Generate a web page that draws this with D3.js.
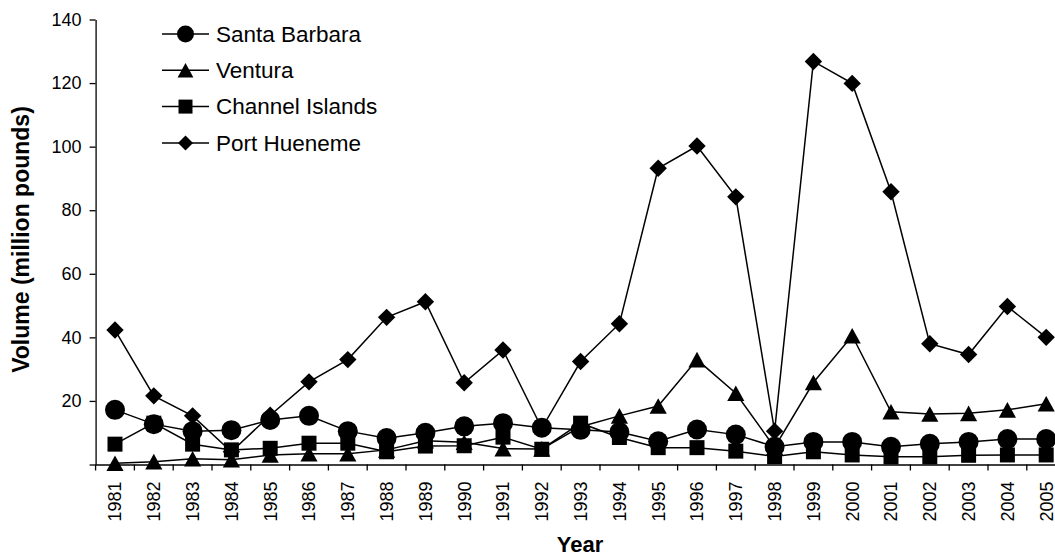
<!DOCTYPE html>
<html>
<head>
<meta charset="utf-8">
<script src="https://cdn.jsdelivr.net/npm/d3@7"></script>
<style>
  html, body { margin: 0; padding: 0; background: #fff; }
  svg { display: block; font-family: "Liberation Sans", Arial, sans-serif; }
</style>
</head>
<body>
<svg id="chart" width="1055" height="558"></svg>
<script>
const years = [1981,1982,1983,1984,1985,1986,1987,1988,1989,1990,1991,1992,1993,1994,1995,1996,1997,1998,1999,2000,2001,2002,2003,2004,2005];
const santaBarbara = [17.2,12.7,10.5,10.8,14.0,15.3,10.5,8.3,10.0,12.0,13.0,11.6,10.9,10.2,7.3,11.0,9.4,5.6,7.1,7.1,5.6,6.5,7.1,8.0,8.0];
const ventura = [0.4,0.9,1.8,1.5,3.0,3.4,3.4,4.6,7.5,7.0,5.0,4.9,11.9,15.3,18.4,33.0,22.4,5.4,25.8,40.5,16.6,15.9,16.1,17.2,19.1];
const channelIslands = [6.4,13.0,6.4,4.6,5.1,6.7,6.7,4.0,5.8,5.9,8.6,4.8,13.0,8.5,5.3,5.3,4.2,2.5,4.0,3.0,2.4,2.4,2.9,3.0,3.0];
const portHueneme = [42.3,21.6,15.3,4.0,15.5,26.0,33.0,46.3,51.2,25.7,36.0,11.4,32.4,44.3,93.2,100.2,84.2,10.5,126.8,119.9,85.8,38.0,34.6,49.7,40.0];
const seriesNames = ["Santa Barbara","Ventura","Channel Islands","Port Hueneme"];
const seriesSymbols = ["circle","triangle","square","diamond"];
const yTicks = [0,20,40,60,80,100,120,140];
const xTitle = "Year";
const yTitle = "Volume (million pounds)";

const seriesValues = [santaBarbara, ventura, channelIslands, portHueneme];

const svg = d3.select("#chart");
const x = d3.scaleBand().domain(years).range([95.6, 1065.6]);
const y = d3.scaleLinear().domain([0,140]).range([464.5, 19.5]);

// Y axis
const yAxis = svg.append("g").attr("transform","translate(95.6,0)")
  .call(d3.axisLeft(y).tickValues(yTicks).tickSize(6).tickSizeOuter(0).tickPadding(8)
    .tickFormat(d => d === 0 ? "" : d));
yAxis.selectAll("text").style("font-size","18px").style("font-family","Liberation Sans, Arial, sans-serif").attr("fill","#000");
yAxis.selectAll("line,path").attr("stroke","#000").attr("stroke-width",1.3);

// X axis
const xAxis = svg.append("g").attr("transform","translate(0,464.5)")
  .call(d3.axisBottom(x).tickSize(0).tickSizeOuter(0));
xAxis.selectAll("path").attr("stroke","#000").attr("stroke-width",1.3);
xAxis.selectAll("text")
  .attr("transform","rotate(-90)")
  .attr("x",-17).attr("y",0).attr("dy","0.35em")
  .style("text-anchor","end")
  .style("font-size","18px").style("font-family","Liberation Sans, Arial, sans-serif").attr("fill","#000");
// tick marks between categories
xAxis.selectAll(".sep").data(years.concat(["end"])).enter().append("line")
  .attr("class","sep")
  .attr("x1", d => d === "end" ? x(years[years.length-1]) + x.bandwidth() : x(d))
  .attr("x2", d => d === "end" ? x(years[years.length-1]) + x.bandwidth() : x(d))
  .attr("y1", 0).attr("y2", 6).attr("stroke","#000").attr("stroke-width",1.3);

// titles
svg.append("text").attr("x",580).attr("y",552).attr("text-anchor","middle")
  .style("font-size","22px").style("font-weight","bold").text(xTitle);
svg.append("text").attr("transform","translate(29,239.5) rotate(-90)").attr("text-anchor","middle")
  .style("font-size","23px").style("font-weight","bold").text(yTitle);

// symbols
function sym(type, s) {
  if (type === "circle") return d3.symbol(d3.symbolCircle, Math.PI*s*s)();
  if (type === "square") return d3.symbol(d3.symbolSquare, (2*s)*(2*s))();
  if (type === "triangle") {
    const w = s*1.1, h = s*1.0;
    return `M0,${-h}L${w},${h}L${-w},${h}Z`;
  }
  if (type === "diamond") return `M0,${-s}L${s},0L0,${s}L${-s},0Z`;
}
const sizes = {circle:10, square:7.5, triangle:7.8, diamond:8.7};

const line = d3.line().x((d,i) => x(years[i]) + x.bandwidth()/2).y(d => y(d));

seriesValues.forEach((vals, si) => {
  const g = svg.append("g");
  g.append("path").attr("d", line(vals)).attr("fill","none").attr("stroke","#000").attr("stroke-width",1.5);
  g.selectAll("path.m").data(vals).enter().append("path").attr("class","m")
    .attr("transform",(d,i) => `translate(${x(years[i]) + x.bandwidth()/2},${y(d)})`)
    .attr("d", sym(seriesSymbols[si], sizes[seriesSymbols[si]]))
    .attr("fill","#000");
});

// legend
const legend = svg.append("g").attr("transform","translate(162,34)");
seriesNames.forEach((name, i) => {
  const row = legend.append("g").attr("transform",`translate(0,${i*36.3})`);
  row.append("line").attr("x1",0).attr("x2",47).attr("y1",0).attr("y2",0).attr("stroke","#000").attr("stroke-width",1.5);
  const ls = {circle:8.5, square:7, triangle:7.2, diamond:7.5}[seriesSymbols[i]];
  row.append("path").attr("transform","translate(23.5,0)").attr("d", sym(seriesSymbols[i], ls)).attr("fill","#000");
  row.append("text").attr("x",54).attr("y",0).attr("dy","0.35em").style("font-size","22.5px").text(name);
});
</script>
</body>
</html>
